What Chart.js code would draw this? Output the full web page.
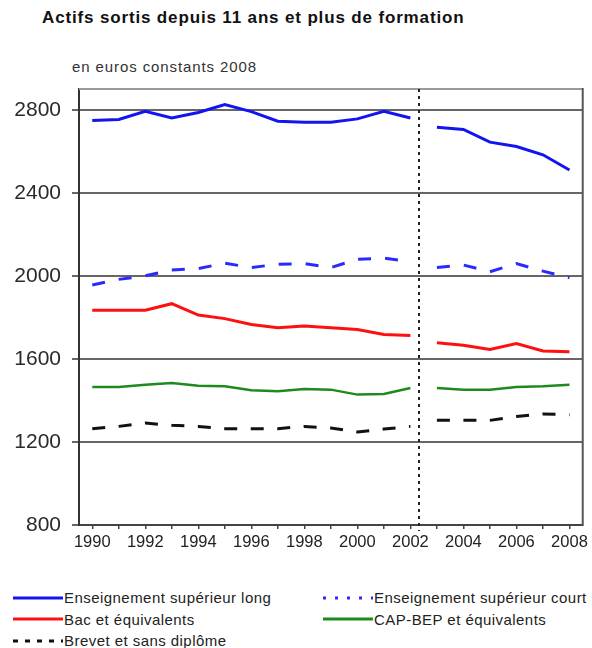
<!DOCTYPE html>
<html>
<head>
<meta charset="utf-8">
<script src="https://cdn.jsdelivr.net/npm/chart.js@4/dist/chart.umd.min.js"></script>
<style>
  body { margin: 0; background: #fff; font-family: "Liberation Sans", Arial, sans-serif; }
  #wrap { position: relative; width: 592px; height: 648px; overflow: hidden; }
  #title { position: absolute; left: 42px; top: 8px; font-weight: bold; font-size: 17px; letter-spacing: 0.85px; color: #111; white-space: nowrap; }
  #sub { position: absolute; left: 72px; top: 58px; font-size: 15px; color: #333; letter-spacing: 0.9px; white-space: nowrap; }
  canvas { position: absolute; left: 0; top: 0; }
  .item { position: absolute; display: flex; align-items: center; font-size: 15px; letter-spacing: 0.45px; color: #222; white-space: nowrap; }
  .item svg { margin-right: 1px; }
</style>
</head>
<body>
<div id="wrap">
  <div id="title">Actifs sortis depuis 11 ans et plus de formation</div>
  <div id="sub">en euros constants 2008</div>
  <canvas id="chart" width="592" height="560"></canvas>
  <div id="legend"></div>
</div>
<script>
// years on the x axis, the survey changes between 2002 and 2003
const years = ['1990', '1991', '1992', '1993', '1994', '1995', '1996', '1997', '1998', '1999',
               '2000', '2001', '2002', '2003', '2004', '2005', '2006', '2007', '2008'];

// salaires mensuels (euros constants 2008)
const supLong  = [2748, 2753, 2793, 2760, 2787, 2825, 2791, 2745, 2740, 2740, 2756, 2793, 2760, 2716, 2705, 2644, 2623, 2583, 2510];
const supCourt = [1956, 1983, 2000, 2028, 2035, 2061, 2040, 2056, 2059, 2040, 2080, 2085, 2069, 2040, 2052, 2020, 2059, 2023, 1991];
const bac      = [1834, 1834, 1834, 1866, 1811, 1794, 1766, 1750, 1758, 1750, 1742, 1718, 1713, 1678, 1666, 1645, 1674, 1638, 1634];
const capBep   = [1465, 1465, 1476, 1484, 1471, 1468, 1449, 1444, 1455, 1452, 1428, 1431, 1460, 1460, 1452, 1452, 1465, 1468, 1476];
const brevet   = [1264, 1275, 1291, 1280, 1275, 1264, 1264, 1264, 1275, 1267, 1248, 1262, 1275, 1304, 1304, 1304, 1323, 1335, 1331];

const yTicks = [800, 1200, 1600, 2000, 2400, 2800];

const breakIndex = years.indexOf('2002'); // no segment drawn between 2002 and 2003
const breakFrac = 0.33;                   // where the dotted rupture line sits

const gapSegment = {
  borderColor: ctx => ctx.p0DataIndex === breakIndex ? 'rgba(0,0,0,0)' : undefined
};

function series(label, data, color, width, dash, legendDash) {
  return {
    label, data,
    borderColor: color,
    borderWidth: width,
    borderDash: dash,
    legendDash: legendDash,
    pointRadius: 0,
    tension: 0,
    fill: false,
    segment: gapSegment
  };
}

const datasets = [
  series('Enseignement supérieur long', supLong, '#1414f0', 3, [], []),
  series('Enseignement supérieur court', supCourt, '#2a2aff', 3, [13, 14], [3, 9]),
  series('Bac et équivalents', bac, '#ff1010', 3, [], []),
  series('CAP-BEP et équivalents', capBep, '#1e8a1e', 2.5, [], []),
  series('Brevet et sans diplôme', brevet, '#111', 3, [13, 13.5], [5, 7])
];

// top / right frame and the dotted rupture line
const framePlugin = {
  id: 'frame',
  beforeDatasetsDraw(chart) {
    const { ctx, chartArea: a } = chart;
    const x = chart.scales.x;
    ctx.save();
    ctx.lineWidth = 2;
    ctx.strokeStyle = '#9a9a9a';
    ctx.beginPath(); ctx.moveTo(a.left, a.top); ctx.lineTo(a.right, a.top); ctx.stroke();
    ctx.strokeStyle = '#555';
    ctx.beginPath(); ctx.moveTo(a.right, a.top - 1); ctx.lineTo(a.right, a.bottom); ctx.stroke();

    const p0 = x.getPixelForValue(breakIndex);
    const p1 = x.getPixelForValue(breakIndex + 1);
    const px = Math.round(p0 + breakFrac * (p1 - p0));
    ctx.setLineDash([3, 4]);
    ctx.strokeStyle = '#222';
    ctx.beginPath(); ctx.moveTo(px, a.top); ctx.lineTo(px, a.bottom + 6); ctx.stroke();
    ctx.restore();
  }
};

const chart = new Chart(document.getElementById('chart'), {
  type: 'line',
  data: { labels: years, datasets },
  plugins: [framePlugin],
  options: {
    responsive: false,
    animation: false,
    devicePixelRatio: 1,
    layout: { padding: { top: 89, right: 7, left: 0, bottom: 0 } },
    plugins: { legend: { display: false }, tooltip: { enabled: false } },
    scales: {
      x: {
        type: 'category',
        offset: true,
        afterFit: s => { s.height = 35; },
        grid: { offset: false, drawOnChartArea: false, drawTicks: true, tickLength: 4, color: '#444', lineWidth: 1.5 },
        border: { display: true, color: '#444', width: 2 },
        ticks: {
          autoSkip: false, maxRotation: 0, padding: 4,
          color: '#222',
          font: { family: '"Liberation Sans", Arial, sans-serif', size: 16.5 },
          callback: (v, i) => i % 2 === 0 ? years[i] : ''
        }
      },
      y: {
        min: 800, max: 2900,
        afterFit: s => { s.width = 79; },
        afterBuildTicks: s => { s.ticks = yTicks.map(v => ({ value: v })); },
        grid: { color: '#666', lineWidth: 2, tickLength: 7 },
        border: { display: true, color: '#333', width: 2 },
        ticks: {
          padding: 11,
          color: '#2a2a2a',
          font: { family: '"Liberation Sans", Arial, sans-serif', size: 21 },
          callback: v => String(v)
        }
      }
    }
  }
});

// legend in two columns, built from the datasets
function buildLegend(chart) {
  const box = document.getElementById('legend');
  chart.data.datasets.forEach((ds, i) => {
    const col = i % 2, row = Math.floor(i / 2);
    const item = document.createElement('div');
    item.className = 'item';
    item.style.left = (col ? 323 : 13) + 'px';
    item.style.top = (589 + row * 21.5) + 'px';
    const dash = ds.legendDash.length ? ` stroke-dasharray="${ds.legendDash.join(' ')}"` : '';
    item.innerHTML = `<svg width="50" height="6"><line x1="0" y1="3" x2="50" y2="3" stroke="${ds.borderColor}" stroke-width="3"${dash}/></svg><span>${ds.label}</span>`;
    box.appendChild(item);
  });
}
buildLegend(chart);
</script>
</body>
</html>
